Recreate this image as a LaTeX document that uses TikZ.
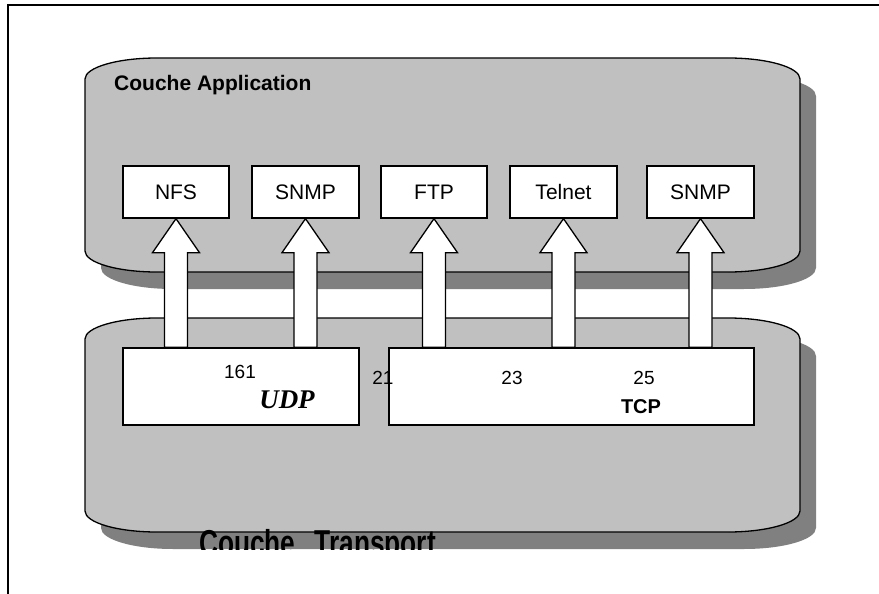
\documentclass[tikz,border=0pt]{standalone}
\usepackage{fontspec}
\usepackage{graphicx}
\setmainfont{Liberation Sans}
\newfontfamily\serifbi{Liberation Serif}
\usetikzlibrary{calc}

\definecolor{layerfill}{HTML}{C0C0C0}
\definecolor{layershadow}{HTML}{808080}

% Rounded layer outline: left, top, right, bottom (elliptic corners)
\newcommand{\layerpath}[4]{(#1,#2+21)
  arc[start angle=180,end angle=90,x radius=72pt,y radius=21pt] -- (#3-72,#2)
  arc[start angle=90,end angle=0,x radius=72pt,y radius=21pt] -- (#3,#4-21)
  arc[start angle=0,end angle=-90,x radius=72pt,y radius=21pt] -- (#1+72,#4)
  arc[start angle=270,end angle=180,x radius=72pt,y radius=21pt] -- cycle}

% Hollow up-arrow from a transport box to a protocol box
\newcommand{\feed}[2]{%
  \path (#1.south) ++(-11.5,34) coordinate (#1-sl) ++(23,0) coordinate (#1-sr);
  \draw[blockarrow] (#1.south) -- ++(23.5,34) -- (#1-sr) -- (#1-sr |- #2.north)
    -- (#1-sl |- #2.north) -- (#1-sl) -- ++(-12,0) -- cycle;}

\tikzset{
  layer/.style={fill=layerfill, draw=black, line width=1.3pt},
  layershade/.style={fill=layershadow},
  protobox/.style={draw=black, fill=white, line width=1.3pt, minimum width=106pt,
    minimum height=52pt, inner sep=0pt, text height=15pt, text depth=0pt,
    font=\fontsize{21}{25}\selectfont},
  transbox/.style={draw=black, fill=white, line width=1.3pt, minimum height=77pt, inner sep=0pt},
  blockarrow/.style={draw=black, fill=white, line width=1.3pt, line join=miter},
  portlabel/.style={font=\fontsize{19}{23}\selectfont, inner sep=0pt},
}

\begin{document}
\begin{tikzpicture}[x=1pt, y=-1pt]
\useasboundingbox (0,0) rectangle (879,594);
\fill[white] (0,0) rectangle (879,594);

% page frame
\draw[line width=1.5pt] (8,594) -- (8,5) -- (879,5);

% application layer
\fill[layershade, shift={(16,17)}] \layerpath{85}{58}{800}{272};
\path[layer] \layerpath{85}{58}{800}{272};

% transport layer
\fill[layershade, shift={(16,17)}] \layerpath{85}{318}{800}{532};
\path[layer] \layerpath{85}{318}{800}{532};

\begin{scope}
  \clip (0,0) rectangle (879,549);
  \node[anchor=base west, inner sep=0pt, font=\bfseries\fontsize{36}{40}\selectfont]
    (transtitle) at (199,555) {\scalebox{0.73}[1]{Couche\hspace{0.45em} Transport}};
\end{scope}

\node[anchor=base west, inner sep=0pt, font=\bfseries\fontsize{21}{25}\selectfont]
  (apptitle) at (114,91) {Couche Application};

% application protocols
\node[protobox] (nfs) at (176,192) {NFS};
\node[protobox, minimum width=107pt] (snmpu) at (305.5,192) {SNMP};
\node[protobox] (ftp) at (434,192) {FTP};
\node[protobox, minimum width=107pt] (telnet) at (563.5,192) {Telnet};
\node[protobox, minimum width=107pt] (snmpt) at (700.5,192) {SNMP};

% transport protocols
\node[transbox, minimum width=236pt] (udp) at (241,386.5) {};
\node[transbox, minimum width=365pt] (tcp) at (571.5,386.5) {};

\feed{nfs}{udp}
\feed{snmpu}{udp}
\feed{ftp}{tcp}
\feed{telnet}{tcp}
\feed{snmpt}{tcp}

% ports and protocol names
\node[portlabel] (p161) at (240,372) {161};
\node[inner sep=0pt, font=\serifbi\bfseries\itshape\fontsize{27}{31}\selectfont]
  (udplabel) at (287,400) {UDP};
\node[portlabel] (p21) at (383,378) {21};
\node[portlabel] (p23) at (512,378) {23};
\node[portlabel] (p25) at (644,378) {25};
\node[inner sep=0pt, font=\bfseries\fontsize{20}{24}\selectfont]
  (tcplabel) at (641,407) {TCP};
\end{tikzpicture}
\end{document}
